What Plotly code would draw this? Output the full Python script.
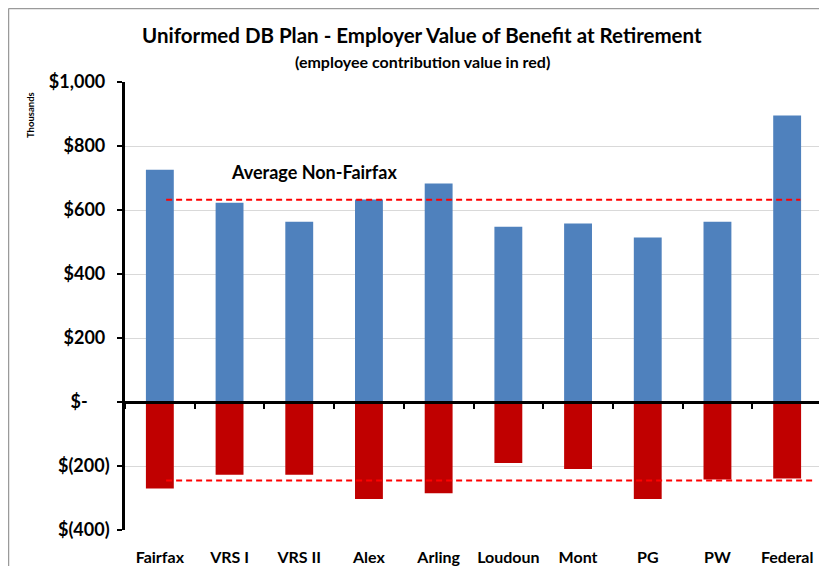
import plotly.graph_objects as go

categories = ["Fairfax", "VRS I", "VRS II", "Alex", "Arling", "Loudoun", "Mont", "PG", "PW", "Federal"]
employer_value = [726, 623, 563, 633, 683, 548, 558, 514, 563, 895]
employee_value = [-270, -227, -227, -303, -285, -191, -209, -303, -242, -239]
avg_employer_non_fairfax = 632
avg_employee_non_fairfax = -245
y_tickvals = [1000, 800, 600, 400, 200, 0, -200, -400]
y_ticktext = ["$1,000\u00a0", "$800\u00a0", "$600\u00a0", "$400\u00a0", "$200\u00a0",
              "$-\u00a0\u00a0\u00a0\u00a0\u00a0", "$(200)", "$(400)"]

FONT = "Lato"
OFF = 8  # page body margin
W, H = 827 - OFF, 566 - OFF
L, R, T, B = 125 - OFF, 5, 82 - OFF, 36
PW = W - L - R
PH = H - T - B


def px_x(p):
    return (p - OFF - L) / PW


def px_y(p):
    return (H - B - (p - OFF)) / PH


fig = go.Figure()
fig.add_trace(go.Bar(x=categories, y=employer_value, marker_color="#4F81BD",
                     marker_line_width=0, name="Employer"))
fig.add_trace(go.Bar(x=categories, y=employee_value, marker_color="#C00000",
                     marker_line_width=0, name="Employee"))
# invisible trace for the zero-line category axis
fig.add_trace(go.Scatter(x=categories, y=[0] * len(categories), xaxis="x2",
                         mode="markers", marker=dict(opacity=0), hoverinfo="skip",
                         showlegend=False))

n = len(categories)
fig.add_shape(type="line", xref="x", yref="y", x0=0.09, x1=n - 1 + 0.19,
              y0=avg_employer_non_fairfax, y1=avg_employer_non_fairfax,
              line=dict(color="#FF0000", width=2, dash="6px,4px"))
fig.add_shape(type="line", xref="x", yref="y", x0=0.09, x1=n - 1 + 0.38,
              y0=avg_employee_non_fairfax, y1=avg_employee_non_fairfax,
              line=dict(color="#FF0000", width=2, dash="6px,4px"))

# outer chart frame (left and top edges)
fig.add_shape(type="line", xref="paper", yref="paper", x0=px_x(8.5), x1=px_x(8.5),
              y0=px_y(8.5), y1=px_y(600), line=dict(color="#9A9A9A", width=1.5))
fig.add_shape(type="line", xref="paper", yref="paper", x0=px_x(8.5), x1=px_x(860),
              y0=px_y(8.5), y1=px_y(8.5), line=dict(color="#9A9A9A", width=1.5))

fig.add_annotation(text="<b>Uniformed DB Plan - Employer Value of Benefit at Retirement</b>",
                   xref="paper", yref="paper", x=px_x(422), y=px_y(35),
                   showarrow=False, font=dict(family=FONT, size=20.5, color="#000000"),
                   xanchor="center", yanchor="middle")
fig.add_annotation(text="<b>(employee contribution value in red)</b>",
                   xref="paper", yref="paper", x=px_x(422), y=px_y(61),
                   showarrow=False, font=dict(family=FONT, size=16, color="#000000"),
                   xanchor="center", yanchor="middle")
fig.add_annotation(text="<b>Average Non-Fairfax</b>",
                   xref="paper", yref="paper", x=px_x(314), y=px_y(172),
                   showarrow=False, font=dict(family=FONT, size=18, color="#000000"),
                   xanchor="center", yanchor="middle")
fig.add_annotation(text="<b>Thousands</b>", textangle=-90,
                   xref="paper", yref="paper", x=px_x(30), y=px_y(115),
                   showarrow=False, font=dict(family=FONT, size=9.5, color="#000000"),
                   xanchor="center", yanchor="middle")

fig.update_layout(
    width=W, height=H,
    margin=dict(l=L, r=R, t=T, b=B, autoexpand=False),
    paper_bgcolor="white", plot_bgcolor="white",
    barmode="relative", bargap=0.6, showlegend=False,
    font=dict(family=FONT, color="#000000"),
    xaxis=dict(type="category", categoryorder="array", categoryarray=categories,
               range=[-0.5, n - 0.5], showline=False, ticks="", showgrid=False,
               automargin=False,
               tickfont=dict(family=FONT, size=16, color="#000000", weight="bold"),
               ticklabelstandoff=16),
    xaxis2=dict(type="category", categoryorder="array", categoryarray=categories,
                range=[-0.5, n - 0.5], overlaying="x", anchor="free",
                position=(0 - (-400)) / 1400, showline=True, linecolor="#000000",
                linewidth=2.5, ticks="outside", tickson="boundaries", ticklen=5,
                tickwidth=2, tickcolor="#000000", showticklabels=False,
                showgrid=False, zeroline=False, automargin=False),
    yaxis=dict(range=[-400, 1000], tickvals=y_tickvals, ticktext=y_ticktext,
               showgrid=True, gridcolor="#D9D9D9", gridwidth=1, zeroline=False,
               showline=True, linecolor="#000000", linewidth=2.5, automargin=False,
               ticks="outside", ticklen=5, tickwidth=2, tickcolor="#000000",
               tickfont=dict(family=FONT, size=18, color="#000000", weight="bold"),
               ticklabelstandoff=4),
)

fig.write_html("out.html")
